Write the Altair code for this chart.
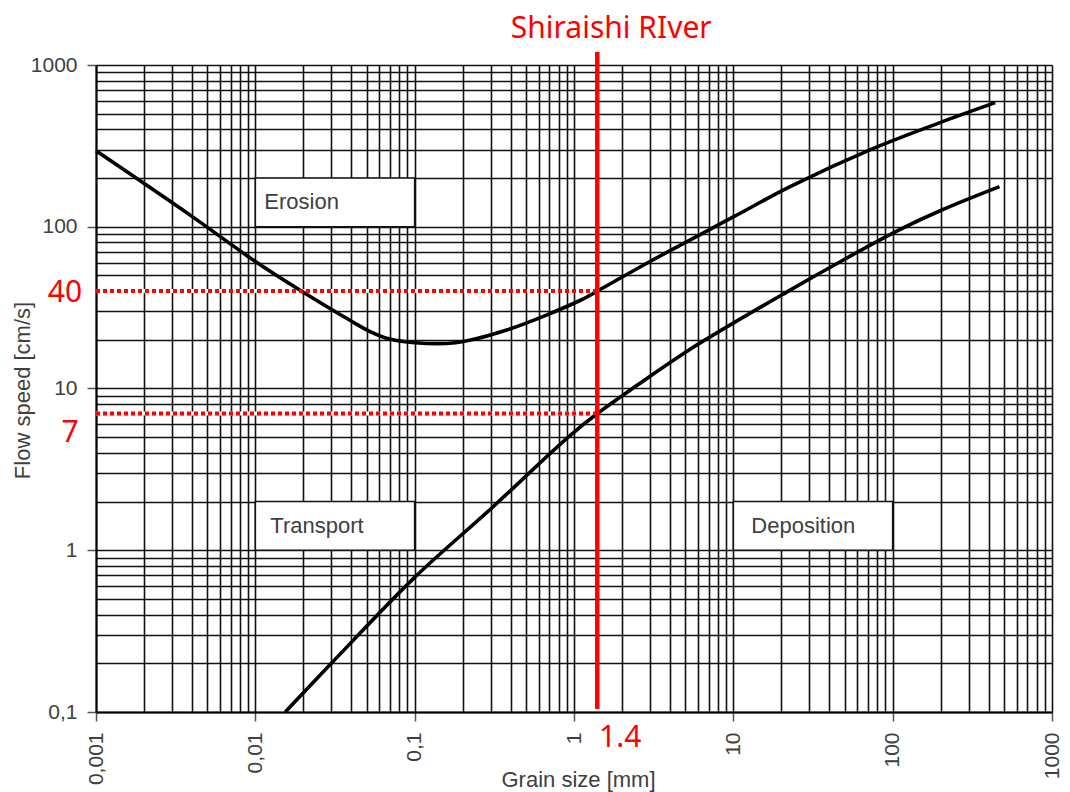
import json
import altair as alt
import pandas as pd

# ---------------- data ----------------
x_decades = [0.001, 0.01, 0.1, 1, 10, 100, 1000]
x_decade_labels = ["0,001", "0,01", "0,1", "1", "10", "100", "1000"]
y_decades = [0.1, 1, 10, 100, 1000]
y_decade_labels = ["0,1", "1", "10", "100", "1000"]
grid_multipliers = [1, 2, 3, 4, 5, 6, 7, 8, 9]

# Erosion (upper) curve
erosion_grain = [0.001, 0.0039, 0.01, 0.0191, 0.039, 0.0525, 0.07, 0.1, 0.18, 0.378, 1.09, 1.4, 3, 10, 22.7, 75.7, 200, 440]
erosion_speed = [295, 118, 61, 40.5, 26.5, 22.5, 20.2, 19.2, 19.2, 23, 35, 40, 61, 115, 177, 305, 442, 585]

# Deposition (lower) curve
deposition_grain = [0.0154, 0.03, 0.1, 0.3, 0.92, 1.4, 2.5, 5.36, 22.7, 50, 106, 200, 468]
deposition_speed = [0.1, 0.2, 0.68, 1.8, 5.0, 7.0, 10.5, 17.5, 40.6, 63, 94, 126, 177]

# Region boxes
box_labels = ["Erosion", "Transport", "Deposition"]
box_grain1 = [0.01, 0.01, 10]
box_grain2 = [0.1, 0.1, 100]
box_speed1 = [100, 1, 1]
box_speed2 = [200, 2, 2]

# Annotation
river_name = "Shiraishi RIver"
river_grain = 1.4
river_speeds = [40, 7]
river_speed_labels = ["40", "7"]

# ---------------- helpers ----------------
x_grid = [round(m * d, 6) for d in x_decades[:-1] for m in grid_multipliers] + [x_decades[-1]]
y_grid = [round(m * d, 6) for d in y_decades[:-1] for m in grid_multipliers] + [y_decades[-1]]

def label_expr(vals, labs):
    v = json.dumps(vals)
    l = json.dumps(labs)
    return f"indexof({v}, datum.value) >= 0 ? {l}[indexof({v}, datum.value)] : ''"

def decade_test(vals):
    return f"indexof({json.dumps(vals)}, datum.value) >= 0"

FONT = "Liberation Sans"
GREY = "#404040"
RED = "#ff0000"

x_scale = alt.Scale(type="log", domain=[0.001, 1000], nice=False)
y_scale = alt.Scale(type="log", domain=[0.1, 1000], nice=False)

x_axis = alt.Axis(
    values=x_grid,
    grid=True, gridColor="#111111", gridWidth=1.6, gridOpacity=1,
    domain=True, domainColor="#000000", domainWidth=2,
    ticks=True, tickSize=9, tickWidth=1.5, tickColor="#555555",
    tickOpacity={"condition": {"test": decade_test(x_decades), "value": 1}, "value": 0},
    labelExpr=label_expr(x_decades, x_decade_labels),
    labelAngle=-90, labelAlign="right", labelBaseline="middle",
    labelFont=FONT, labelFontSize=21, labelColor=GREY, labelPadding=11,
    labelOverlap=False, labelFlush=False,
    title="Grain size [mm]", titleFont=FONT, titleFontSize=22, titleFontWeight="normal",
    titleColor=GREY, titleX=482, titleY=67, titleBaseline="middle",
)
y_axis = alt.Axis(
    values=y_grid,
    grid=True, gridColor="#111111", gridWidth=1.6, gridOpacity=1,
    domain=True, domainColor="#000000", domainWidth=2,
    ticks=True, tickSize=9, tickWidth=1.5, tickColor="#555555",
    tickOpacity={"condition": {"test": decade_test(y_decades), "value": 1}, "value": 0},
    labelExpr=label_expr(y_decades, y_decade_labels),
    labelFont=FONT, labelFontSize=21, labelColor=GREY, labelPadding=10,
    labelOverlap=False, labelFlush=False,
    title="Flow speed [cm/s]", titleFont=FONT, titleFontSize=22, titleFontWeight="normal",
    titleColor=GREY, titleX=-74, titleY=325, titleBaseline="middle", titleAngle=-90,
)

X = alt.X("grain:Q", scale=x_scale, axis=x_axis)
Y = alt.Y("speed:Q", scale=y_scale, axis=y_axis)

# ---------------- tables ----------------
curves = pd.concat([
    pd.DataFrame({"grain": erosion_grain, "speed": erosion_speed, "curve": "erosion"}),
    pd.DataFrame({"grain": deposition_grain, "speed": deposition_speed, "curve": "deposition"}),
])
boxes = pd.DataFrame({"label": box_labels, "grain": box_grain1, "grain2": box_grain2,
                      "speed": box_speed1, "speed2": box_speed2})
dotted = pd.DataFrame({"grain": [x_decades[0]] * len(river_speeds),
                       "grain2": [river_grain] * len(river_speeds),
                       "speed": river_speeds, "label": river_speed_labels})
river = pd.DataFrame({"grain": [river_grain], "name": [river_name], "label": [str(river_grain)]})

# ---------------- layers ----------------
box_layer = alt.Chart(boxes).mark_rect(fill="white", stroke="#111111", strokeWidth=1.6).encode(
    x=X, x2="grain2:Q", y=Y, y2="speed2:Q")

def region_text(label, dx):
    sub = boxes[boxes["label"] == label].copy()
    sub["mid"] = (sub["speed"] * sub["speed2"]) ** 0.5
    return alt.Chart(sub).mark_text(font=FONT, fontSize=22, color=GREY, align="left",
                                    baseline="alphabetic", dx=dx, dy=7).encode(
        x=X, y=alt.Y("mid:Q", scale=y_scale, axis=y_axis), text="label:N")

curve_layer = alt.Chart(curves).mark_line(color="black", strokeWidth=3.6, interpolate="catmull-rom").encode(
    x=X, y=Y, detail="curve:N", order="grain:Q")

dotted_under = alt.Chart(dotted).mark_rule(color="white", strokeWidth=4).encode(
    x=X, x2="grain2:Q", y=Y)
dotted_layer = alt.Chart(dotted).mark_rule(color=RED, strokeWidth=4, strokeDash=[4, 3]).encode(
    x=X, x2="grain2:Q", y=Y)

river_line = alt.Chart(river).mark_rule(color=RED, strokeWidth=4.5).encode(
    x=X, y=alt.value(-13), y2=alt.value(644))

river_title = alt.Chart(river).mark_text(font="Noto Sans", fontSize=30, color=RED, align="center",
                                         baseline="alphabetic", dx=14).encode(
    x=X, y=alt.value(-27), text="name:N")

river_x_label = alt.Chart(river).mark_text(font="Noto Sans", fontSize=30, color=RED, align="center",
                                           baseline="alphabetic", dx=23).encode(
    x=X, y=alt.value(682), text="label:N")

speed40 = alt.Chart(dotted[dotted["label"] == "40"]).mark_text(
    font="Noto Sans", fontSize=30, color=RED, align="center", baseline="alphabetic", dy=11).encode(
    x=alt.value(-31), y=Y, text="label:N")
speed7 = alt.Chart(dotted[dotted["label"] == "7"]).mark_text(
    font="Noto Sans", fontSize=30, color=RED, align="center", baseline="alphabetic", dy=28).encode(
    x=alt.value(-26), y=Y, text="label:N")

chart = alt.layer(
    box_layer,
    region_text("Erosion", 9),
    region_text("Transport", 15),
    region_text("Deposition", 18),
    dotted_under,
    curve_layer,
    dotted_layer,
    river_line,
    river_title,
    river_x_label,
    speed40,
    speed7,
).properties(
    width=956, height=647,
    autosize=alt.AutoSizeParams(type="none"),
    padding={"left": 96, "top": 65, "right": 18, "bottom": 80},
    background="white",
).configure_view(strokeWidth=0)

chart.save("out.html", embed_options={"renderer": "svg", "actions": False})
